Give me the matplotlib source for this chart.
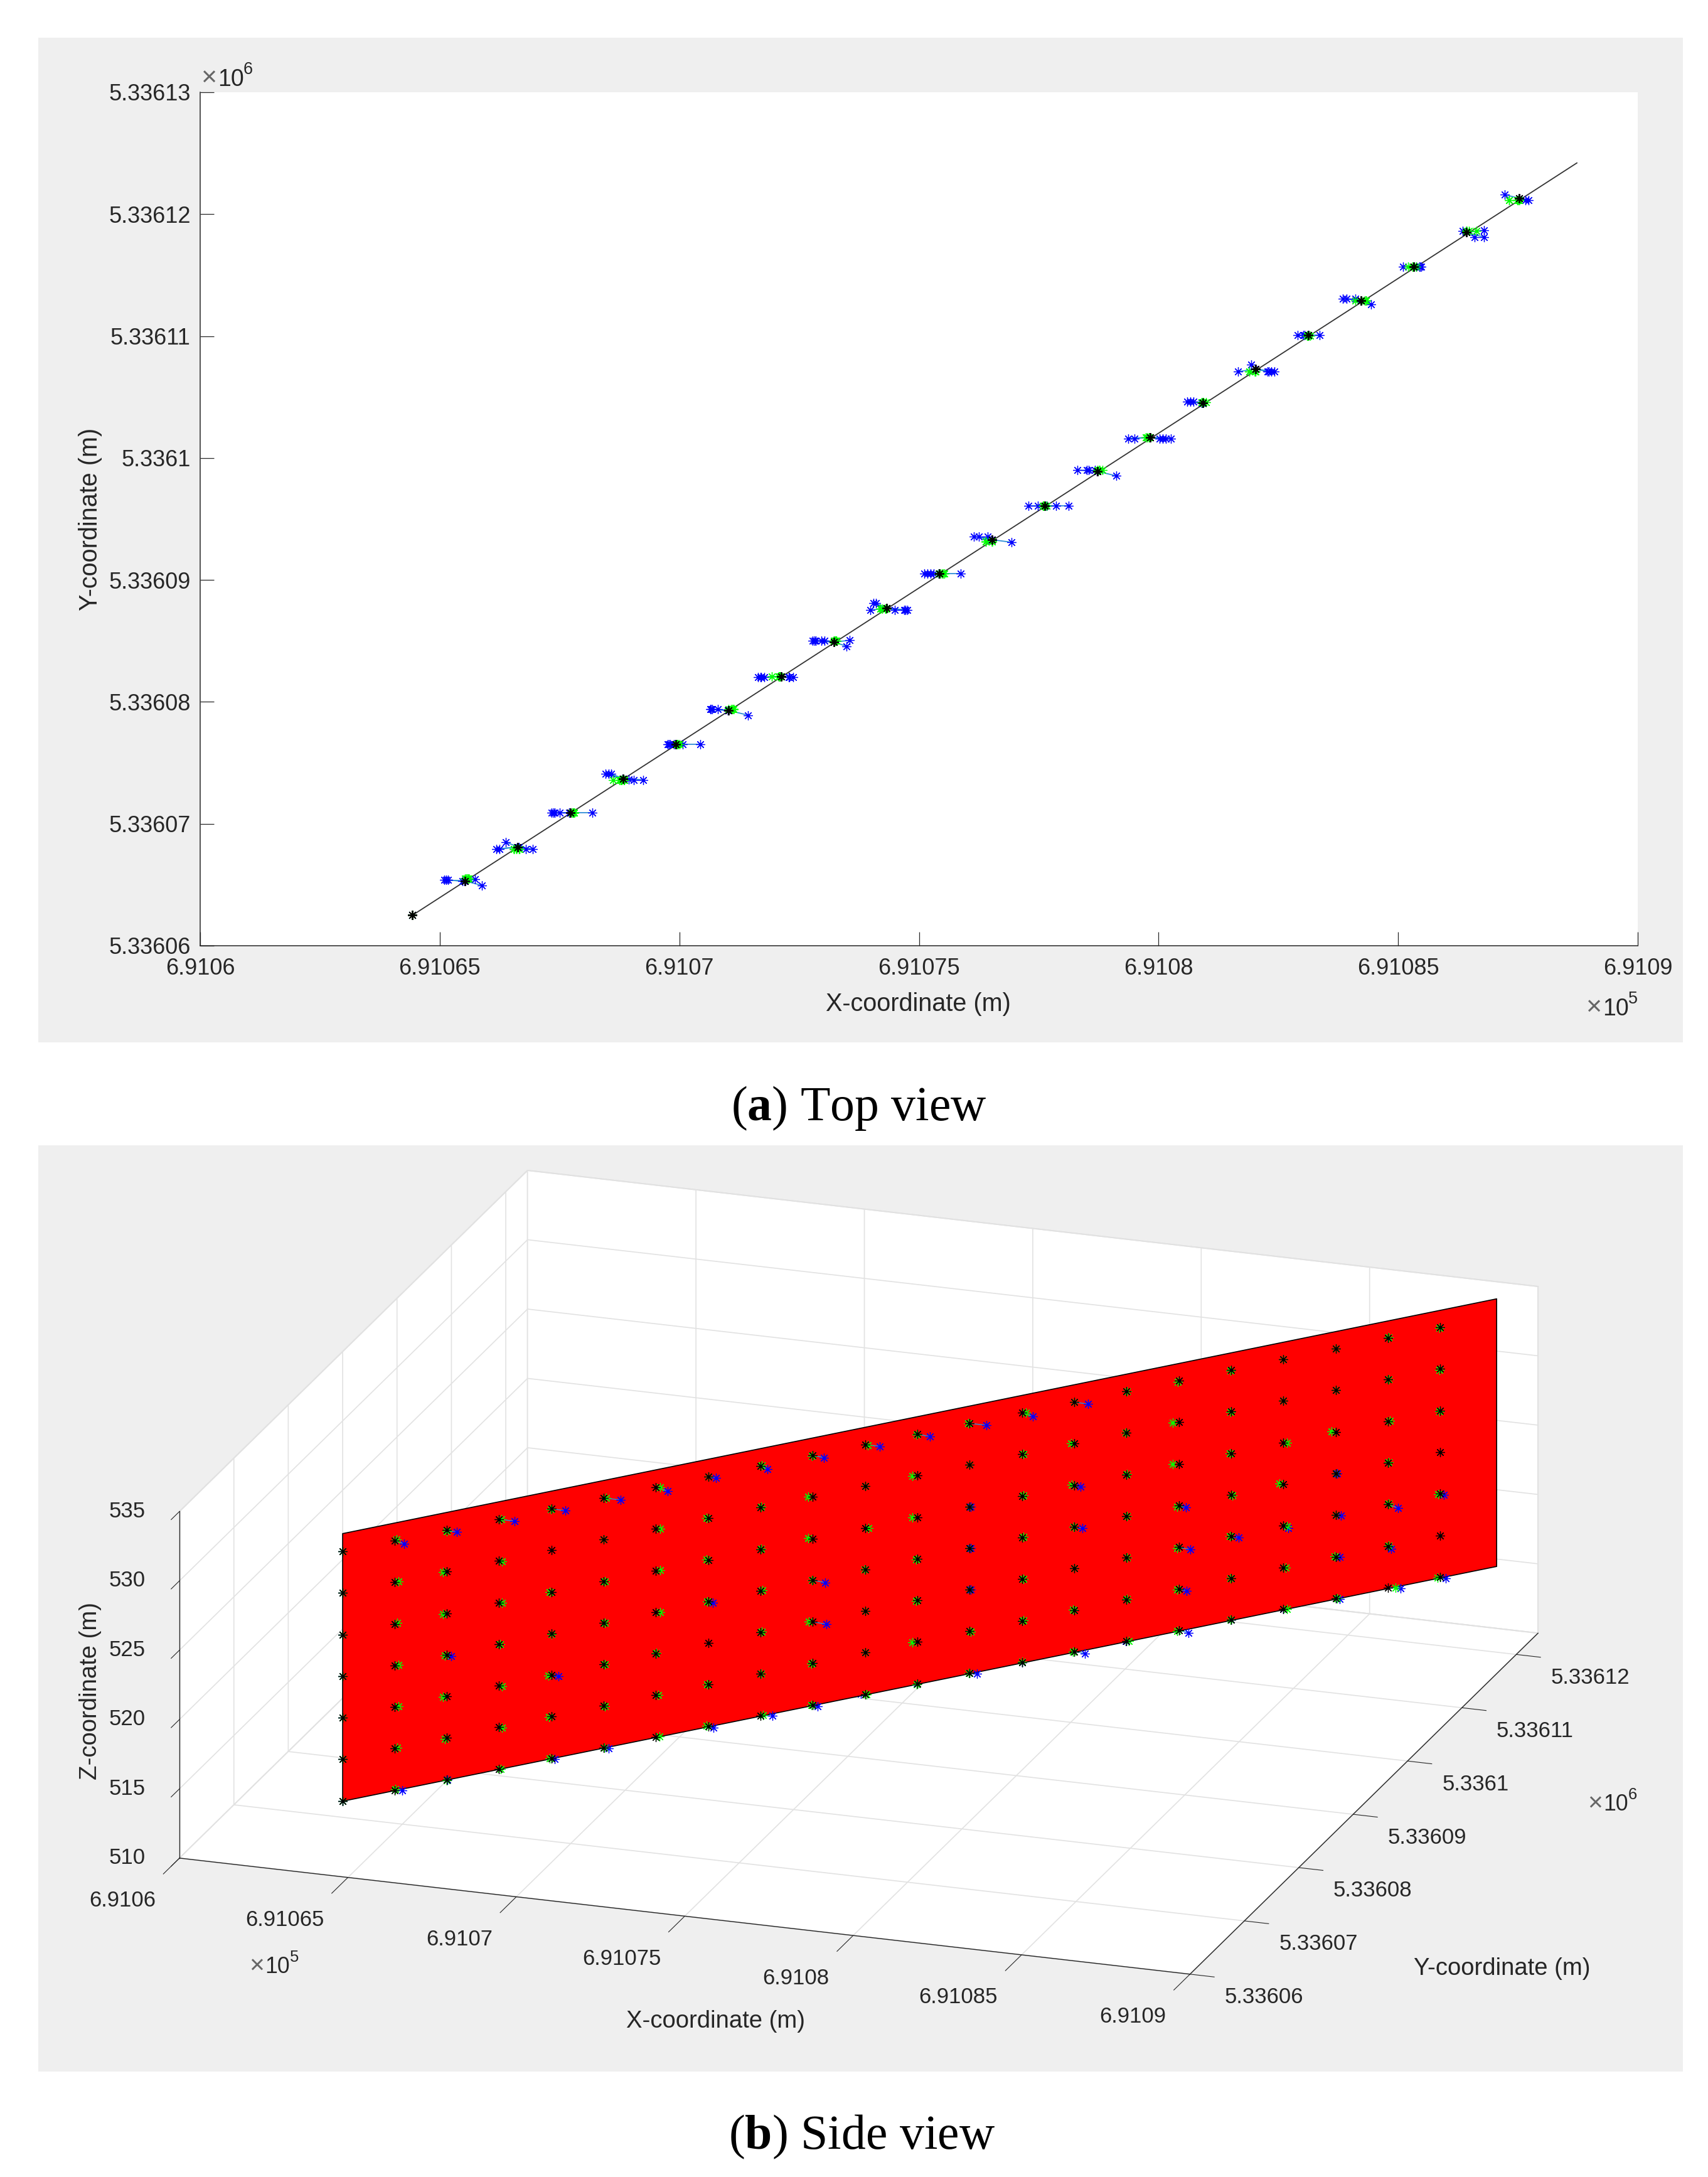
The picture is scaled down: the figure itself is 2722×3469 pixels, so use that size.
import numpy as np
import matplotlib
matplotlib.use('Agg')
import matplotlib.pyplot as plt
from matplotlib.patches import Rectangle
from mpl_toolkits.mplot3d.art3d import Poly3DCollection
from mpl_toolkits.mplot3d import proj3d

W, H = 2722, 3469
TXT = '#262626'
plt.rcParams['font.family'] = ['Liberation Sans', 'DejaVu Sans']
plt.rcParams['mathtext.fontset'] = 'custom'
plt.rcParams['mathtext.bf'] = 'Liberation Serif:bold'
plt.rcParams['mathtext.rm'] = 'Liberation Sans'

# black survey points, one per column of the wall
col_x = [691064.43, 691065.53, 691066.63, 691067.73, 691068.83, 691069.93, 691071.03, 691072.13,
         691073.23, 691074.33, 691075.43, 691076.53, 691077.63, 691078.73, 691079.83, 691080.93,
         691082.03, 691083.13, 691084.23, 691085.33, 691086.43, 691087.53]
col_y = [5336062.5, 5336065.3, 5336068.1, 5336070.9, 5336073.7, 5336076.5, 5336079.3, 5336082.1,
         5336084.9, 5336087.7, 5336090.5, 5336093.3, 5336096.1, 5336098.9, 5336101.7, 5336104.5,
         5336107.3, 5336110.1, 5336112.9, 5336115.7, 5336118.5, 5336121.3]
z_rows = [514.4, 517.4, 520.4, 523.4, 526.4, 529.4, 532.4]

# wall outline
wall_x = [691064.43, 691088.73]
wall_y = [5336062.5, 5336124.2]
wall_z = [514.4, 533.7]

# blue points, offset from the black one in metres: one row per column, bottom to top of the wall
blue_dx = [
    [0, 0, 0, 0, 0, 0, 0],
    [.21, -.43, -.36, -.40, -.05, -.02, .345],
    [.02, -.45, -.39, .164, -.257, -.02, .315],
    [-.40, -.33, -.36, -.23, -.03, -.01, .46],
    [.11, -.368, .216, -.31, -.25, -.02, .42],
    [.146, -.175, -.12, -.15, -.02, -.05, .51],
    [-.385, -.35, -.228, -.37, -.02, -.02, .403],
    [.16, -.493, -.436, .153, -.362, -.42, .24],
    [.327, -.445, -.38, -.27, -.196, -.41, .262],
    [.161, -.231, .423, .39, -.275, -.34, .358],
    [-.122, -.02, -.318, -.02, -.253, -.187, .436],
    [-.02, -.379, -.283, -.1, 0, 0, .405],
    [.227, -.34, .04, .04, .04, -.144, .488],
    [0, -.057, -.427, -.02, -.187, -.231, .388],
    [.327, -.458, -.327, .262, .196, -.02, .427],
    [-.03, -.02, -.01, -.196, -.327, -.262, -.03],
    [.327, .269, .385, .25, -.374, -.1, -.02],
    [0, -.08, .228, -.222, -.105, 0, 0],
    [0, 0, .204, 0, -.117, -.38, -.31],
    [.13, .117, .158, .05, -.222, 0, 0],
    [.356, .164, .356, -.08, 0, 0, 0],
    [.187, 0, .128, 0, -.31, 0, 0],
]
blue_dy = [
    [0, 0, 0, 0, 0, 0, 0],
    [.14, .09, .09, .09, 0, 0, -.34],
    [0, -.17, -.17, -.17, .41, 0, -.17],
    [0, 0, 0, 0, 0, 0, 0],
    [-.05, .39, -.09, .39, .39, 0, -.09],
    [0, 0, 0, 0, 0, 0, 0],
    [.09, .09, .09, .09, 0, 0, -.39],
    [-.09, -.09, -.09, -.09, -.09, -.09, -.09],
    [.154, .14, .14, .14, .14, .14, -.34],
    [-.17, .38, -.17, -.17, .38, -.17, -.17],
    [0, 0, 0, 0, 0, 0, 0],
    [0, .26, .26, .26, 0, 0, -.21],
    [0, 0, 0, 0, 0, 0, 0],
    [0, .12, .12, 0, .12, .12, -.36],
    [-.09, -.09, -.09, -.09, -.09, 0, -.09],
    [0, 0, 0, .12, .12, .12, 0],
    [-.22, -.22, -.22, -.22, -.22, .38, 0],
    [0, 0, 0, 0, 0, 0, 0],
    [0, 0, -.31, 0, .17, .17, .17],
    [0, 0, 0, 0, 0, 0, 0],
    [.17, -.377, -.377, .1, 0, 0, 0],
    [-.17, 0, -.17, 0, .31, 0, 0],
]

# green points, same layout
green_dx = [
    [0, 0, 0, 0, 0, 0, 0],
    [0, .05, .08, .08, .05, .08, .02],
    [.03, -.03, -.08, -.03, -.08, -.08, .02],
    [.05, .08, .08, .03, .08, .08, .06],
    [-.03, -.05, -.08, .02, -.04, -.21, .01],
    [.02, .03, .03, .03, .03, -.01, .07],
    [.08, .05, 0, .1, .1, .1, .1],
    [-.05, -.03, -.2, -.03, -.06, -.06, 0],
    [.05, 0, .02, .04, 0, 0, .02],
    [-.03, -.03, -.1, -.02, -.13, -.13, -.02],
    [.05, 0, 0, -.02, .1, .01, .08],
    [0, -.13, -.01, -.01, -.13, -.13, 0],
    [-.03, .03, 0, 0, 0, 0, -.05],
    [0, .03, .03, .03, .03, .03, .1],
    [-.03, -.03, 0, -.02, -.07, -.1, 0],
    [.06, 0, .01, 0, 0, -.03, 0],
    [-.02, -.02, -.02, -.02, -.14, -.14, 0],
    [0, 0, -.03, .04, -.02, 0, 0],
    [.1, .08, .1, -.12, .1, 0, 0],
    [.05, -.03, 0, 0, -.12, 0, 0],
    [.21, 0, 0, 0, .05, 0, 0],
    [-.05, -.22, -.03, -.22, 0, 0, 0],
]
green_dy = [0, .19, -.17, 0, -.1, 0, .1, 0, .1, -.08, 0, -.15, 0, .1, 0, .05, -.2, -.05, 0, 0, .1, -.15]

xticks = [691060, 691065, 691070, 691075, 691080, 691085, 691090]
xticklabels = ['6.9106', '6.91065', '6.9107', '6.91075', '6.9108', '6.91085', '6.9109']
yticks_top = [5336060, 5336070, 5336080, 5336090, 5336100, 5336110, 5336120, 5336130]
yticklabels_top = ['5.33606', '5.33607', '5.33608', '5.33609', '5.3361', '5.33611', '5.33612', '5.33613']
zticks = [510, 515, 520, 525, 530, 535]
zticklabels = ['510', '515', '520', '525', '530', '535']

black_x = np.repeat(np.array(col_x)[:, None], len(z_rows), axis=1)
black_y = np.repeat(np.array(col_y)[:, None], len(z_rows), axis=1)
black_z = np.repeat(np.array(z_rows)[None, :], len(col_x), axis=0)
blue_x = black_x + np.array(blue_dx)
blue_y = black_y + np.array(blue_dy)
green_x = black_x + np.array(green_dx)
green_y = black_y + np.array(green_dy)[:, None]

ASTER = (8, 2, 0)
MS = 10.5
MEW = 0.9
LINK = '#2f8fd6'


def px_box(left, top, right, bottom):
    return [left / W, 1 - bottom / H, (right - left) / W, (bottom - top) / H]


def exp_label(x, y, exp, scale=1.0):
    # MATLAB style x10^n, thin grey cross
    fig.text(x / W, 1 - y / H, '\u00d7', ha='left', va='baseline', fontsize=31 * scale, color='#666666')
    fig.text((x + 27 * scale) / W, 1 - y / H, '10', ha='left', va='baseline', fontsize=27 * scale, color=TXT)
    fig.text((x + 68 * scale) / W, 1 - (y - 19 * scale) / H, exp, ha='left', va='baseline', fontsize=19.5 * scale, color=TXT)


fig = plt.figure(figsize=(W / 100, H / 100), dpi=100, facecolor='white')

# grey backgrounds of the two exported figures
for left, top, right, bottom in [(61, 60, 2682, 1661), (61, 1825, 2682, 3301)]:
    l, b, w, h = px_box(left, top, right, bottom)
    fig.add_artist(Rectangle((l, b), w, h, transform=fig.transFigure, facecolor='#efefef',
                             edgecolor='none', zorder=-5))

# top view
ax = fig.add_axes(px_box(319, 147, 2610, 1507))
ax.set_facecolor('white')
ax.plot(wall_x, wall_y, color='#333333', lw=1.3, zorder=3)
for i in range(len(col_x)):
    for j in range(len(z_rows)):
        ax.plot([black_x[i, j], blue_x[i, j]], [black_y[i, j], blue_y[i, j]], color=LINK, lw=1.3, zorder=2)
ax.plot(blue_x.ravel(), blue_y.ravel(), ls='none', marker=ASTER, ms=MS, mew=MEW, color='#0000ff', zorder=4)
ax.plot(green_x.ravel(), green_y.ravel(), ls='none', marker=ASTER, ms=MS, mew=MEW, color='#00ff00', zorder=5)
ax.plot(black_x.ravel(), black_y.ravel(), ls='none', marker=ASTER, ms=MS, mew=MEW, color='black', zorder=6)
ax.set_xlim(691060, 691090)
ax.set_ylim(5336060, 5336130)
ax.set_xticks(xticks)
ax.set_xticklabels(xticklabels)
ax.set_yticks(yticks_top)
ax.set_yticklabels(yticklabels_top)
ax.tick_params(direction='in', length=15.5, width=0.9, color=TXT, labelcolor=TXT, labelsize=26)
ax.tick_params(axis='x', pad=14)
ax.tick_params(axis='y', pad=11)
ax.spines['top'].set_visible(False)
ax.spines['right'].set_visible(False)
for s in ['left', 'bottom']:
    ax.spines[s].set_linewidth(1.1)
    ax.spines[s].set_color(TXT)

fig.text(1463 / W, 1 - 1600 / H, 'X-coordinate (m)', ha='center', va='center', fontsize=28.5, color=TXT)
fig.text(144 / W, 1 - 827 / H, 'Y-coordinate (m)', ha='center', va='center', rotation=90, fontsize=28.5, color=TXT)
exp_label(320, 137, '6')
exp_label(2527, 1618, '5')
fig.text(1369 / W, 1 - 1785 / H, r'($\mathbf{a}$) Top view', ha='center', va='baseline', fontsize=56,
         family='Liberation Serif', color='black')

# side view
S = 2412
ax3 = fig.add_axes(px_box(130, H + 275 - S, 130 + S, H + 275), projection='3d', proj_type='ortho',
                   computed_zorder=False)
ax3.set_facecolor('none')
ax3.patch.set_visible(False)
ax3.view_init(elev=19.6, azim=-71.1)
ax3.set_box_aspect((770.4, 775, 265.4), zoom=1.0)
ax3.set_xlim(691060, 691090)
ax3.set_ylim(5336060, 5336124)
ax3.set_zlim(510, 535)

for axis, tick_len in ((ax3.xaxis, 0.58), (ax3.yaxis, 0.3), (ax3.zaxis, 0.3)):
    axis.set_pane_color((1, 1, 1, 1))
    axis.pane.set_edgecolor('#dcdcdc')
    axis.pane.set_linewidth(1.4)
    axis.line.set_color(TXT)
    axis.line.set_linewidth(1.0)
    axis._axinfo['grid']['color'] = '#e2e2e2'
    axis._axinfo['grid']['linewidth'] = 1.2
    axis._axinfo['tick']['outward_factor'] = 0
    axis._axinfo['tick']['inward_factor'] = tick_len
    axis._axinfo['tick']['linewidth'] = {True: 0.8, False: 0.5}

ax3.set_xticks(xticks)
ax3.set_xticklabels([])
ax3.set_yticks(yticks_top[:-1])
ax3.set_yticklabels([])
ax3.set_zticks(zticks)
ax3.set_zticklabels([])
ax3.tick_params(axis='both', color=TXT)
ax3.zaxis.set_ticks_position('lower')

# tick labels sit at fixed pixel offsets from the projected tick, like MATLAB
M = ax3.get_proj()


def tick_text(x, y, z, label, dx, dy, ha):
    px, py, _ = proj3d.proj_transform(x, y, z, M)
    ax3.annotate(label, xy=(px, py), xycoords='data', xytext=(dx, -dy), textcoords='offset pixels',
                 ha=ha, va='center', fontsize=25, color=TXT, annotation_clip=False)


for t, lab in zip(xticks, xticklabels):
    tick_text(t, 5336060, 510, lab, -38, 68, 'right')
for t, lab in zip(yticks_top[:-1], yticklabels_top[:-1]):
    tick_text(691090, t, 510, lab, 55, 37, 'left')
for t, lab in zip(zticks, zticklabels):
    tick_text(691060, 5336060, t, lab, -54, 0, 'right')

# markers behind the wall first, then the wall, then the ones in front of it
blue_front = np.array(blue_dx) > 0
green_front = np.array(green_dx) > -0.15

ax3.plot(blue_x[~blue_front], blue_y[~blue_front], black_z[~blue_front], ls='none', marker=ASTER, ms=MS,
         mew=MEW, color='#0000ff', zorder=2)
ax3.plot(green_x[~green_front], green_y[~green_front], black_z[~green_front], ls='none', marker=ASTER, ms=MS,
         mew=MEW, color='#00ff00', zorder=2)
wall = [[(wall_x[0], wall_y[0], wall_z[0]), (wall_x[1], wall_y[1], wall_z[0]),
         (wall_x[1], wall_y[1], wall_z[1]), (wall_x[0], wall_y[0], wall_z[1])]]
ax3.add_collection3d(Poly3DCollection(wall, facecolor='#ff0000', edgecolor='black', linewidth=1.2, zorder=3))

for i in range(len(col_x)):
    for j in range(len(z_rows)):
        if blue_front[i, j]:
            ax3.plot([black_x[i, j], blue_x[i, j]], [black_y[i, j], blue_y[i, j]], [black_z[i, j]] * 2,
                     color=LINK, lw=1.1, zorder=4)
ax3.plot(blue_x[blue_front], blue_y[blue_front], black_z[blue_front], ls='none', marker=ASTER, ms=MS,
         mew=MEW, color='#0000ff', zorder=5)
ax3.plot(green_x[green_front], green_y[green_front], black_z[green_front], ls='none', marker=ASTER, ms=MS,
         mew=MEW, color='#00ff00', zorder=6)
ax3.plot(black_x.ravel(), black_y.ravel(), black_z.ravel(), ls='none', marker=ASTER, ms=MS, mew=MEW,
         color='black', zorder=7)

fig.text(1140 / W, 1 - 3221 / H, 'X-coordinate (m)', ha='center', va='center', fontsize=27.5, color=TXT)
fig.text(2394 / W, 1 - 3137 / H, 'Y-coordinate (m)', ha='center', va='center', fontsize=27.5, color=TXT)
fig.text(144 / W, 1 - 2694 / H, 'Z-coordinate (m)', ha='center', va='center', rotation=90, fontsize=27.5, color=TXT)
exp_label(397, 3144, '5', 0.95)
exp_label(2530, 2885, '6', 0.95)
fig.text(1373 / W, 1 - 3424 / H, r'($\mathbf{b}$) Side view', ha='center', va='baseline', fontsize=56,
         family='Liberation Serif', color='black')

fig.savefig('out.png', dpi=100)
